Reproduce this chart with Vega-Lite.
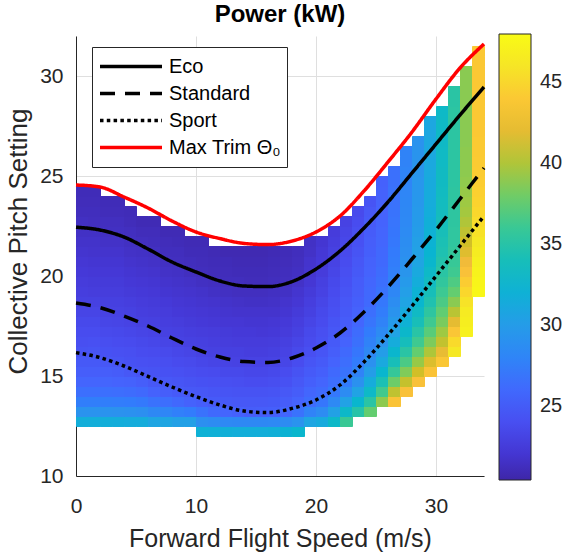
{
"$schema":"https://vega.github.io/schema/vega-lite/v6.json",
"width":408,"height":440,
"autosize":{"type":"none"},
"padding":{"left":76,"top":36,"right":80,"bottom":81},
"title":{"text":"Power (kW)","fontSize":24,"fontWeight":"bold","font":"Liberation Sans","color":"#000000","anchor":"middle","offset":-12,"baseline":"alphabetic"},
"config":{
"view":{"stroke":null},
"axis":{"zindex":0,"grid":true,"gridColor":"#DFDFDF","gridWidth":1,"domainColor":"#262626","domainWidth":1,"ticks":false,"labelFont":"Liberation Sans","labelFontSize":21,"labelColor":"#262626","labelFlush":false,"titleFont":"Liberation Sans","titleFontWeight":"normal","titleColor":"#262626","titleBaseline":"alphabetic","format":"d"},
"axisX":{"labelPadding":19,"titleFontSize":25,"titleAlign":"center","titleAngle":0},
"axisY":{"labelPadding":13,"titleFontSize":26,"titleAngle":270,"titleAlign":"center"}
},
"datasets":{
"cells":[
{"s":0,"t":12.5,"p":31.7},{"s":0,"t":13,"p":29.2},{"s":0,"t":13.5,"p":27.5},{"s":0,"t":14,"p":26.4},{"s":0,"t":14.5,"p":25.7},{"s":0,"t":15,"p":25.2},{"s":0,"t":15.5,"p":24.8},{"s":0,"t":16,"p":24.3},{"s":0,"t":16.5,"p":24.0},{"s":0,"t":17,"p":23.8},{"s":0,"t":17.5,"p":23.5},{"s":0,"t":18,"p":23.2},{"s":0,"t":18.5,"p":22.9},{"s":0,"t":19,"p":22.7},{"s":0,"t":19.5,"p":22.5},{"s":0,"t":20,"p":22.3},{"s":0,"t":20.5,"p":22.1},{"s":0,"t":21,"p":21.9},{"s":0,"t":21.5,"p":21.7},{"s":0,"t":22,"p":21.5},{"s":0,"t":22.5,"p":21.4},{"s":0,"t":23,"p":21.2},{"s":0,"t":23.5,"p":21.1},{"s":0,"t":24,"p":21.0},
{"s":1,"t":12.5,"p":31.7},{"s":1,"t":13,"p":29.2},{"s":1,"t":13.5,"p":27.5},{"s":1,"t":14,"p":26.4},{"s":1,"t":14.5,"p":25.7},{"s":1,"t":15,"p":25.2},{"s":1,"t":15.5,"p":24.8},{"s":1,"t":16,"p":24.4},{"s":1,"t":16.5,"p":24.1},{"s":1,"t":17,"p":23.8},{"s":1,"t":17.5,"p":23.5},{"s":1,"t":18,"p":23.2},{"s":1,"t":18.5,"p":22.9},{"s":1,"t":19,"p":22.6},{"s":1,"t":19.5,"p":22.4},{"s":1,"t":20,"p":22.2},{"s":1,"t":20.5,"p":22.0},{"s":1,"t":21,"p":21.8},{"s":1,"t":21.5,"p":21.7},{"s":1,"t":22,"p":21.5},{"s":1,"t":22.5,"p":21.3},{"s":1,"t":23,"p":21.2},{"s":1,"t":23.5,"p":21.1},{"s":1,"t":24,"p":21.0},
{"s":2,"t":12.5,"p":31.7},{"s":2,"t":13,"p":29.2},{"s":2,"t":13.5,"p":27.5},{"s":2,"t":14,"p":26.4},{"s":2,"t":14.5,"p":25.7},{"s":2,"t":15,"p":25.2},{"s":2,"t":15.5,"p":24.6},{"s":2,"t":16,"p":24.2},{"s":2,"t":16.5,"p":23.9},{"s":2,"t":17,"p":23.6},{"s":2,"t":17.5,"p":23.3},{"s":2,"t":18,"p":23.0},{"s":2,"t":18.5,"p":22.8},{"s":2,"t":19,"p":22.6},{"s":2,"t":19.5,"p":22.4},{"s":2,"t":20,"p":22.2},{"s":2,"t":20.5,"p":22.0},{"s":2,"t":21,"p":21.8},{"s":2,"t":21.5,"p":21.6},{"s":2,"t":22,"p":21.4},{"s":2,"t":22.5,"p":21.3},{"s":2,"t":23,"p":21.1},{"s":2,"t":23.5,"p":21.0},
{"s":3,"t":12.5,"p":31.6},{"s":3,"t":13,"p":29.1},{"s":3,"t":13.5,"p":27.4},{"s":3,"t":14,"p":26.3},{"s":3,"t":14.5,"p":25.6},{"s":3,"t":15,"p":25.0},{"s":3,"t":15.5,"p":24.4},{"s":3,"t":16,"p":24.1},{"s":3,"t":16.5,"p":23.8},{"s":3,"t":17,"p":23.5},{"s":3,"t":17.5,"p":23.2},{"s":3,"t":18,"p":23.0},{"s":3,"t":18.5,"p":22.8},{"s":3,"t":19,"p":22.6},{"s":3,"t":19.5,"p":22.4},{"s":3,"t":20,"p":22.2},{"s":3,"t":20.5,"p":22.0},{"s":3,"t":21,"p":21.8},{"s":3,"t":21.5,"p":21.6},{"s":3,"t":22,"p":21.4},{"s":3,"t":22.5,"p":21.3},{"s":3,"t":23,"p":21.1},{"s":3,"t":23.5,"p":21.0},
{"s":4,"t":12.5,"p":31.5},{"s":4,"t":13,"p":29.0},{"s":4,"t":13.5,"p":27.3},{"s":4,"t":14,"p":26.2},{"s":4,"t":14.5,"p":25.5},{"s":4,"t":15,"p":24.7},{"s":4,"t":15.5,"p":24.2},{"s":4,"t":16,"p":24.0},{"s":4,"t":16.5,"p":23.7},{"s":4,"t":17,"p":23.4},{"s":4,"t":17.5,"p":23.1},{"s":4,"t":18,"p":22.9},{"s":4,"t":18.5,"p":22.7},{"s":4,"t":19,"p":22.4},{"s":4,"t":19.5,"p":22.2},{"s":4,"t":20,"p":22.0},{"s":4,"t":20.5,"p":21.8},{"s":4,"t":21,"p":21.6},{"s":4,"t":21.5,"p":21.4},{"s":4,"t":22,"p":21.3},{"s":4,"t":22.5,"p":21.1},{"s":4,"t":23,"p":21.0},
{"s":5,"t":12.5,"p":31.5},{"s":5,"t":13,"p":28.9},{"s":5,"t":13.5,"p":27.1},{"s":5,"t":14,"p":26.0},{"s":5,"t":14.5,"p":25.2},{"s":5,"t":15,"p":24.4},{"s":5,"t":15.5,"p":24.1},{"s":5,"t":16,"p":23.8},{"s":5,"t":16.5,"p":23.5},{"s":5,"t":17,"p":23.2},{"s":5,"t":17.5,"p":22.9},{"s":5,"t":18,"p":22.7},{"s":5,"t":18.5,"p":22.5},{"s":5,"t":19,"p":22.3},{"s":5,"t":19.5,"p":22.1},{"s":5,"t":20,"p":21.9},{"s":5,"t":20.5,"p":21.7},{"s":5,"t":21,"p":21.5},{"s":5,"t":21.5,"p":21.3},{"s":5,"t":22,"p":21.1},{"s":5,"t":22.5,"p":20.9},
{"s":6,"t":12.5,"p":30.8},{"s":6,"t":13,"p":28.3},{"s":6,"t":13.5,"p":26.6},{"s":6,"t":14,"p":25.5},{"s":6,"t":14.5,"p":24.7},{"s":6,"t":15,"p":24.3},{"s":6,"t":15.5,"p":24.0},{"s":6,"t":16,"p":23.7},{"s":6,"t":16.5,"p":23.4},{"s":6,"t":17,"p":23.1},{"s":6,"t":17.5,"p":22.8},{"s":6,"t":18,"p":22.6},{"s":6,"t":18.5,"p":22.4},{"s":6,"t":19,"p":22.2},{"s":6,"t":19.5,"p":22.0},{"s":6,"t":20,"p":21.8},{"s":6,"t":20.5,"p":21.6},{"s":6,"t":21,"p":21.4},{"s":6,"t":21.5,"p":21.2},{"s":6,"t":22,"p":21.1},{"s":6,"t":22.5,"p":20.9},
{"s":7,"t":12.5,"p":30.8},{"s":7,"t":13,"p":28.1},{"s":7,"t":13.5,"p":26.3},{"s":7,"t":14,"p":25.2},{"s":7,"t":14.5,"p":24.6},{"s":7,"t":15,"p":24.2},{"s":7,"t":15.5,"p":23.9},{"s":7,"t":16,"p":23.6},{"s":7,"t":16.5,"p":23.2},{"s":7,"t":17,"p":22.9},{"s":7,"t":17.5,"p":22.7},{"s":7,"t":18,"p":22.5},{"s":7,"t":18.5,"p":22.3},{"s":7,"t":19,"p":22.0},{"s":7,"t":19.5,"p":21.8},{"s":7,"t":20,"p":21.6},{"s":7,"t":20.5,"p":21.4},{"s":7,"t":21,"p":21.2},{"s":7,"t":21.5,"p":21.1},{"s":7,"t":22,"p":20.9},
{"s":8,"t":12.5,"p":30.3},{"s":8,"t":13,"p":27.6},{"s":8,"t":13.5,"p":25.9},{"s":8,"t":14,"p":24.9},{"s":8,"t":14.5,"p":24.5},{"s":8,"t":15,"p":24.1},{"s":8,"t":15.5,"p":23.7},{"s":8,"t":16,"p":23.4},{"s":8,"t":16.5,"p":23.0},{"s":8,"t":17,"p":22.8},{"s":8,"t":17.5,"p":22.6},{"s":8,"t":18,"p":22.3},{"s":8,"t":18.5,"p":22.1},{"s":8,"t":19,"p":21.9},{"s":8,"t":19.5,"p":21.7},{"s":8,"t":20,"p":21.5},{"s":8,"t":20.5,"p":21.3},{"s":8,"t":21,"p":21.2},{"s":8,"t":21.5,"p":21.0},{"s":8,"t":22,"p":20.9},
{"s":9,"t":12.5,"p":30.3},{"s":9,"t":13,"p":27.3},{"s":9,"t":13.5,"p":25.5},{"s":9,"t":14,"p":24.7},{"s":9,"t":14.5,"p":24.3},{"s":9,"t":15,"p":23.9},{"s":9,"t":15.5,"p":23.6},{"s":9,"t":16,"p":23.2},{"s":9,"t":16.5,"p":22.9},{"s":9,"t":17,"p":22.7},{"s":9,"t":17.5,"p":22.4},{"s":9,"t":18,"p":22.2},{"s":9,"t":18.5,"p":22.0},{"s":9,"t":19,"p":21.8},{"s":9,"t":19.5,"p":21.6},{"s":9,"t":20,"p":21.3},{"s":9,"t":20.5,"p":21.2},{"s":9,"t":21,"p":21.0},{"s":9,"t":21.5,"p":20.9},
{"s":10,"t":12,"p":32.0},{"s":10,"t":12.5,"p":28.9},{"s":10,"t":13,"p":26.6},{"s":10,"t":13.5,"p":25.2},{"s":10,"t":14,"p":24.6},{"s":10,"t":14.5,"p":24.2},{"s":10,"t":15,"p":23.8},{"s":10,"t":15.5,"p":23.4},{"s":10,"t":16,"p":23.0},{"s":10,"t":16.5,"p":22.8},{"s":10,"t":17,"p":22.6},{"s":10,"t":17.5,"p":22.3},{"s":10,"t":18,"p":22.1},{"s":10,"t":18.5,"p":21.9},{"s":10,"t":19,"p":21.7},{"s":10,"t":19.5,"p":21.4},{"s":10,"t":20,"p":21.2},{"s":10,"t":20.5,"p":21.1},{"s":10,"t":21,"p":21.0},{"s":10,"t":21.5,"p":20.9},
{"s":11,"t":12,"p":31.9},{"s":11,"t":12.5,"p":28.6},{"s":11,"t":13,"p":26.0},{"s":11,"t":13.5,"p":24.9},{"s":11,"t":14,"p":24.5},{"s":11,"t":14.5,"p":24.1},{"s":11,"t":15,"p":23.7},{"s":11,"t":15.5,"p":23.2},{"s":11,"t":16,"p":22.9},{"s":11,"t":16.5,"p":22.7},{"s":11,"t":17,"p":22.5},{"s":11,"t":17.5,"p":22.2},{"s":11,"t":18,"p":22.0},{"s":11,"t":18.5,"p":21.8},{"s":11,"t":19,"p":21.5},{"s":11,"t":19.5,"p":21.3},{"s":11,"t":20,"p":21.1},{"s":11,"t":20.5,"p":21.0},{"s":11,"t":21,"p":20.9},
{"s":12,"t":12,"p":31.8},{"s":12,"t":12.5,"p":28.4},{"s":12,"t":13,"p":25.7},{"s":12,"t":13.5,"p":24.8},{"s":12,"t":14,"p":24.4},{"s":12,"t":14.5,"p":24.0},{"s":12,"t":15,"p":23.5},{"s":12,"t":15.5,"p":23.1},{"s":12,"t":16,"p":22.8},{"s":12,"t":16.5,"p":22.6},{"s":12,"t":17,"p":22.4},{"s":12,"t":17.5,"p":22.1},{"s":12,"t":18,"p":21.9},{"s":12,"t":18.5,"p":21.7},{"s":12,"t":19,"p":21.4},{"s":12,"t":19.5,"p":21.2},{"s":12,"t":20,"p":21.1},{"s":12,"t":20.5,"p":21.0},{"s":12,"t":21,"p":20.8},
{"s":13,"t":12,"p":31.7},{"s":13,"t":12.5,"p":28.3},{"s":13,"t":13,"p":25.4},{"s":13,"t":13.5,"p":24.7},{"s":13,"t":14,"p":24.3},{"s":13,"t":14.5,"p":23.9},{"s":13,"t":15,"p":23.5},{"s":13,"t":15.5,"p":23.0},{"s":13,"t":16,"p":22.8},{"s":13,"t":16.5,"p":22.5},{"s":13,"t":17,"p":22.3},{"s":13,"t":17.5,"p":22.1},{"s":13,"t":18,"p":21.8},{"s":13,"t":18.5,"p":21.6},{"s":13,"t":19,"p":21.3},{"s":13,"t":19.5,"p":21.2},{"s":13,"t":20,"p":21.0},{"s":13,"t":20.5,"p":20.9},{"s":13,"t":21,"p":20.8},
{"s":14,"t":12,"p":31.7},{"s":14,"t":12.5,"p":28.3},{"s":14,"t":13,"p":25.1},{"s":14,"t":13.5,"p":24.7},{"s":14,"t":14,"p":24.3},{"s":14,"t":14.5,"p":23.8},{"s":14,"t":15,"p":23.4},{"s":14,"t":15.5,"p":23.0},{"s":14,"t":16,"p":22.7},{"s":14,"t":16.5,"p":22.5},{"s":14,"t":17,"p":22.3},{"s":14,"t":17.5,"p":22.0},{"s":14,"t":18,"p":21.8},{"s":14,"t":18.5,"p":21.5},{"s":14,"t":19,"p":21.3},{"s":14,"t":19.5,"p":21.1},{"s":14,"t":20,"p":21.0},{"s":14,"t":20.5,"p":20.9},{"s":14,"t":21,"p":20.8},
{"s":15,"t":12,"p":31.7},{"s":15,"t":12.5,"p":28.3},{"s":15,"t":13,"p":25.2},{"s":15,"t":13.5,"p":24.7},{"s":15,"t":14,"p":24.3},{"s":15,"t":14.5,"p":23.8},{"s":15,"t":15,"p":23.4},{"s":15,"t":15.5,"p":23.0},{"s":15,"t":16,"p":22.7},{"s":15,"t":16.5,"p":22.5},{"s":15,"t":17,"p":22.2},{"s":15,"t":17.5,"p":22.0},{"s":15,"t":18,"p":21.8},{"s":15,"t":18.5,"p":21.5},{"s":15,"t":19,"p":21.3},{"s":15,"t":19.5,"p":21.1},{"s":15,"t":20,"p":21.0},{"s":15,"t":20.5,"p":20.9},{"s":15,"t":21,"p":20.8},
{"s":16,"t":12,"p":31.8},{"s":16,"t":12.5,"p":28.4},{"s":16,"t":13,"p":25.3},{"s":16,"t":13.5,"p":24.8},{"s":16,"t":14,"p":24.4},{"s":16,"t":14.5,"p":23.9},{"s":16,"t":15,"p":23.5},{"s":16,"t":15.5,"p":23.1},{"s":16,"t":16,"p":22.8},{"s":16,"t":16.5,"p":22.6},{"s":16,"t":17,"p":22.3},{"s":16,"t":17.5,"p":22.1},{"s":16,"t":18,"p":21.8},{"s":16,"t":18.5,"p":21.6},{"s":16,"t":19,"p":21.4},{"s":16,"t":19.5,"p":21.2},{"s":16,"t":20,"p":21.1},{"s":16,"t":20.5,"p":21.0},{"s":16,"t":21,"p":20.9},
{"s":17,"t":12,"p":32.2},{"s":17,"t":12.5,"p":28.6},{"s":17,"t":13,"p":25.8},{"s":17,"t":13.5,"p":25.1},{"s":17,"t":14,"p":24.7},{"s":17,"t":14.5,"p":24.2},{"s":17,"t":15,"p":23.8},{"s":17,"t":15.5,"p":23.3},{"s":17,"t":16,"p":23.1},{"s":17,"t":16.5,"p":22.8},{"s":17,"t":17,"p":22.5},{"s":17,"t":17.5,"p":22.3},{"s":17,"t":18,"p":22.0},{"s":17,"t":18.5,"p":21.8},{"s":17,"t":19,"p":21.5},{"s":17,"t":19.5,"p":21.3},{"s":17,"t":20,"p":21.2},{"s":17,"t":20.5,"p":21.1},{"s":17,"t":21,"p":21.0},
{"s":18,"t":12,"p":32.7},{"s":18,"t":12.5,"p":29.2},{"s":18,"t":13,"p":26.6},{"s":18,"t":13.5,"p":25.6},{"s":18,"t":14,"p":25.1},{"s":18,"t":14.5,"p":24.7},{"s":18,"t":15,"p":24.3},{"s":18,"t":15.5,"p":23.8},{"s":18,"t":16,"p":23.5},{"s":18,"t":16.5,"p":23.2},{"s":18,"t":17,"p":22.9},{"s":18,"t":17.5,"p":22.7},{"s":18,"t":18,"p":22.4},{"s":18,"t":18.5,"p":22.1},{"s":18,"t":19,"p":21.9},{"s":18,"t":19.5,"p":21.6},{"s":18,"t":20,"p":21.4},{"s":18,"t":20.5,"p":21.3},{"s":18,"t":21,"p":21.2},
{"s":19,"t":12.5,"p":30.8},{"s":19,"t":13,"p":27.9},{"s":19,"t":13.5,"p":26.2},{"s":19,"t":14,"p":25.8},{"s":19,"t":14.5,"p":25.3},{"s":19,"t":15,"p":24.9},{"s":19,"t":15.5,"p":24.5},{"s":19,"t":16,"p":24.0},{"s":19,"t":16.5,"p":23.7},{"s":19,"t":17,"p":23.5},{"s":19,"t":17.5,"p":23.2},{"s":19,"t":18,"p":22.9},{"s":19,"t":18.5,"p":22.7},{"s":19,"t":19,"p":22.4},{"s":19,"t":19.5,"p":22.1},{"s":19,"t":20,"p":21.9},{"s":19,"t":20.5,"p":21.8},{"s":19,"t":21,"p":21.6},{"s":19,"t":21.5,"p":21.5},
{"s":20,"t":12.5,"p":31.3},{"s":20,"t":13,"p":28.6},{"s":20,"t":13.5,"p":26.9},{"s":20,"t":14,"p":26.1},{"s":20,"t":14.5,"p":25.7},{"s":20,"t":15,"p":25.3},{"s":20,"t":15.5,"p":24.9},{"s":20,"t":16,"p":24.5},{"s":20,"t":16.5,"p":24.2},{"s":20,"t":17,"p":24.0},{"s":20,"t":17.5,"p":23.7},{"s":20,"t":18,"p":23.5},{"s":20,"t":18.5,"p":23.3},{"s":20,"t":19,"p":23.0},{"s":20,"t":19.5,"p":22.8},{"s":20,"t":20,"p":22.5},{"s":20,"t":20.5,"p":22.3},{"s":20,"t":21,"p":22.2},{"s":20,"t":21.5,"p":22.0},
{"s":21,"t":12.5,"p":33.0},{"s":21,"t":13,"p":30.4},{"s":21,"t":13.5,"p":28.4},{"s":21,"t":14,"p":27.0},{"s":21,"t":14.5,"p":26.3},{"s":21,"t":15,"p":26.0},{"s":21,"t":15.5,"p":25.6},{"s":21,"t":16,"p":25.2},{"s":21,"t":16.5,"p":24.9},{"s":21,"t":17,"p":24.6},{"s":21,"t":17.5,"p":24.4},{"s":21,"t":18,"p":24.1},{"s":21,"t":18.5,"p":23.9},{"s":21,"t":19,"p":23.7},{"s":21,"t":19.5,"p":23.5},{"s":21,"t":20,"p":23.3},{"s":21,"t":20.5,"p":23.1},{"s":21,"t":21,"p":22.9},{"s":21,"t":21.5,"p":22.7},{"s":21,"t":22,"p":22.5},
{"s":22,"t":12.5,"p":36.0},{"s":22,"t":13,"p":33.0},{"s":22,"t":13.5,"p":30.5},{"s":22,"t":14,"p":28.6},{"s":22,"t":14.5,"p":27.3},{"s":22,"t":15,"p":26.7},{"s":22,"t":15.5,"p":26.3},{"s":22,"t":16,"p":26.0},{"s":22,"t":16.5,"p":25.6},{"s":22,"t":17,"p":25.2},{"s":22,"t":17.5,"p":25.0},{"s":22,"t":18,"p":24.8},{"s":22,"t":18.5,"p":24.6},{"s":22,"t":19,"p":24.4},{"s":22,"t":19.5,"p":24.2},{"s":22,"t":20,"p":24.0},{"s":22,"t":20.5,"p":23.8},{"s":22,"t":21,"p":23.6},{"s":22,"t":21.5,"p":23.4},{"s":22,"t":22,"p":23.2},{"s":22,"t":22.5,"p":23.0},
{"s":23,"t":13,"p":35.0},{"s":23,"t":13.5,"p":32.6},{"s":23,"t":14,"p":30.6},{"s":23,"t":14.5,"p":29.0},{"s":23,"t":15,"p":27.9},{"s":23,"t":15.5,"p":27.3},{"s":23,"t":16,"p":26.9},{"s":23,"t":16.5,"p":26.5},{"s":23,"t":17,"p":26.2},{"s":23,"t":17.5,"p":25.8},{"s":23,"t":18,"p":25.5},{"s":23,"t":18.5,"p":25.3},{"s":23,"t":19,"p":25.1},{"s":23,"t":19.5,"p":25.0},{"s":23,"t":20,"p":24.8},{"s":23,"t":20.5,"p":24.6},{"s":23,"t":21,"p":24.4},{"s":23,"t":21.5,"p":24.2},{"s":23,"t":22,"p":24.0},{"s":23,"t":22.5,"p":23.8},{"s":23,"t":23,"p":23.6},
{"s":24,"t":13,"p":37.6},{"s":24,"t":13.5,"p":35.2},{"s":24,"t":14,"p":33.1},{"s":24,"t":14.5,"p":31.5},{"s":24,"t":15,"p":30.1},{"s":24,"t":15.5,"p":29.0},{"s":24,"t":16,"p":28.3},{"s":24,"t":16.5,"p":27.8},{"s":24,"t":17,"p":27.3},{"s":24,"t":17.5,"p":26.8},{"s":24,"t":18,"p":26.4},{"s":24,"t":18.5,"p":26.0},{"s":24,"t":19,"p":25.9},{"s":24,"t":19.5,"p":25.8},{"s":24,"t":20,"p":25.6},{"s":24,"t":20.5,"p":25.5},{"s":24,"t":21,"p":25.3},{"s":24,"t":21.5,"p":25.2},{"s":24,"t":22,"p":25.0},{"s":24,"t":22.5,"p":24.9},{"s":24,"t":23,"p":24.7},{"s":24,"t":23.5,"p":24.4},
{"s":25,"t":13.5,"p":38.9},{"s":25,"t":14,"p":36.3},{"s":25,"t":14.5,"p":34.3},{"s":25,"t":15,"p":32.6},{"s":25,"t":15.5,"p":31.2},{"s":25,"t":16,"p":30.1},{"s":25,"t":16.5,"p":29.2},{"s":25,"t":17,"p":28.5},{"s":25,"t":17.5,"p":27.9},{"s":25,"t":18,"p":27.4},{"s":25,"t":18.5,"p":27.0},{"s":25,"t":19,"p":26.7},{"s":25,"t":19.5,"p":26.4},{"s":25,"t":20,"p":26.2},{"s":25,"t":20.5,"p":26.0},{"s":25,"t":21,"p":25.9},{"s":25,"t":21.5,"p":25.8},{"s":25,"t":22,"p":25.7},{"s":25,"t":22.5,"p":25.6},{"s":25,"t":23,"p":25.6},{"s":25,"t":23.5,"p":25.5},{"s":25,"t":24,"p":25.5},{"s":25,"t":24.5,"p":25.4},
{"s":26,"t":13.5,"p":43.6},{"s":26,"t":14,"p":40.5},{"s":26,"t":14.5,"p":37.9},{"s":26,"t":15,"p":35.8},{"s":26,"t":15.5,"p":34.1},{"s":26,"t":16,"p":32.7},{"s":26,"t":16.5,"p":31.5},{"s":26,"t":17,"p":30.6},{"s":26,"t":17.5,"p":29.8},{"s":26,"t":18,"p":29.2},{"s":26,"t":18.5,"p":28.7},{"s":26,"t":19,"p":28.2},{"s":26,"t":19.5,"p":27.9},{"s":26,"t":20,"p":27.6},{"s":26,"t":20.5,"p":27.4},{"s":26,"t":21,"p":27.2},{"s":26,"t":21.5,"p":27.0},{"s":26,"t":22,"p":26.9},{"s":26,"t":22.5,"p":26.8},{"s":26,"t":23,"p":26.7},{"s":26,"t":23.5,"p":26.6},{"s":26,"t":24,"p":26.6},{"s":26,"t":24.5,"p":26.5},{"s":26,"t":25,"p":26.5},
{"s":27,"t":14,"p":43.4},{"s":27,"t":14.5,"p":40.7},{"s":27,"t":15,"p":38.5},{"s":27,"t":15.5,"p":36.7},{"s":27,"t":16,"p":35.2},{"s":27,"t":16.5,"p":33.9},{"s":27,"t":17,"p":32.9},{"s":27,"t":17.5,"p":32.0},{"s":27,"t":18,"p":31.3},{"s":27,"t":18.5,"p":30.7},{"s":27,"t":19,"p":30.2},{"s":27,"t":19.5,"p":29.8},{"s":27,"t":20,"p":29.4},{"s":27,"t":20.5,"p":29.1},{"s":27,"t":21,"p":28.9},{"s":27,"t":21.5,"p":28.7},{"s":27,"t":22,"p":28.5},{"s":27,"t":22.5,"p":28.4},{"s":27,"t":23,"p":28.3},{"s":27,"t":23.5,"p":28.2},{"s":27,"t":24,"p":28.1},{"s":27,"t":24.5,"p":28.0},{"s":27,"t":25,"p":28.0},{"s":27,"t":25.5,"p":27.9},{"s":27,"t":26,"p":27.9},
{"s":28,"t":14.5,"p":43.4},{"s":28,"t":15,"p":41.1},{"s":28,"t":15.5,"p":39.2},{"s":28,"t":16,"p":37.6},{"s":28,"t":16.5,"p":36.2},{"s":28,"t":17,"p":35.1},{"s":28,"t":17.5,"p":34.1},{"s":28,"t":18,"p":33.3},{"s":28,"t":18.5,"p":32.6},{"s":28,"t":19,"p":32.1},{"s":28,"t":19.5,"p":31.6},{"s":28,"t":20,"p":31.2},{"s":28,"t":20.5,"p":30.8},{"s":28,"t":21,"p":30.5},{"s":28,"t":21.5,"p":30.3},{"s":28,"t":22,"p":30.1},{"s":28,"t":22.5,"p":29.9},{"s":28,"t":23,"p":29.8},{"s":28,"t":23.5,"p":29.6},{"s":28,"t":24,"p":29.5},{"s":28,"t":24.5,"p":29.5},{"s":28,"t":25,"p":29.4},{"s":28,"t":25.5,"p":29.3},{"s":28,"t":26,"p":29.3},{"s":28,"t":26.5,"p":29.2},
{"s":29,"t":15,"p":43.6},{"s":29,"t":15.5,"p":41.6},{"s":29,"t":16,"p":39.9},{"s":29,"t":16.5,"p":38.4},{"s":29,"t":17,"p":37.2},{"s":29,"t":17.5,"p":36.2},{"s":29,"t":18,"p":35.4},{"s":29,"t":18.5,"p":34.6},{"s":29,"t":19,"p":34.0},{"s":29,"t":19.5,"p":33.5},{"s":29,"t":20,"p":33.1},{"s":29,"t":20.5,"p":32.7},{"s":29,"t":21,"p":32.4},{"s":29,"t":21.5,"p":32.2},{"s":29,"t":22,"p":32.0},{"s":29,"t":22.5,"p":31.8},{"s":29,"t":23,"p":31.6},{"s":29,"t":23.5,"p":31.5},{"s":29,"t":24,"p":31.4},{"s":29,"t":24.5,"p":31.3},{"s":29,"t":25,"p":31.2},{"s":29,"t":25.5,"p":31.1},{"s":29,"t":26,"p":31.1},{"s":29,"t":26.5,"p":31.1},{"s":29,"t":27,"p":31.0},{"s":29,"t":27.5,"p":31.0},
{"s":30,"t":15.5,"p":43.9},{"s":30,"t":16,"p":42.1},{"s":30,"t":16.5,"p":40.6},{"s":30,"t":17,"p":39.4},{"s":30,"t":17.5,"p":38.3},{"s":30,"t":18,"p":37.5},{"s":30,"t":18.5,"p":36.7},{"s":30,"t":19,"p":36.1},{"s":30,"t":19.5,"p":35.6},{"s":30,"t":20,"p":35.2},{"s":30,"t":20.5,"p":34.8},{"s":30,"t":21,"p":34.5},{"s":30,"t":21.5,"p":34.3},{"s":30,"t":22,"p":34.1},{"s":30,"t":22.5,"p":33.9},{"s":30,"t":23,"p":33.7},{"s":30,"t":23.5,"p":33.6},{"s":30,"t":24,"p":33.5},{"s":30,"t":24.5,"p":33.4},{"s":30,"t":25,"p":33.4},{"s":30,"t":25.5,"p":33.3},{"s":30,"t":26,"p":33.3},{"s":30,"t":26.5,"p":33.2},{"s":30,"t":27,"p":33.2},{"s":30,"t":27.5,"p":33.2},{"s":30,"t":28,"p":33.1},
{"s":31,"t":16,"p":46.2},{"s":31,"t":16.5,"p":45.3},{"s":31,"t":17,"p":43.8},{"s":31,"t":17.5,"p":42.0},{"s":31,"t":18,"p":40.3},{"s":31,"t":18.5,"p":38.8},{"s":31,"t":19,"p":37.6},{"s":31,"t":19.5,"p":36.8},{"s":31,"t":20,"p":36.2},{"s":31,"t":20.5,"p":35.9},{"s":31,"t":21,"p":35.7},{"s":31,"t":21.5,"p":35.5},{"s":31,"t":22,"p":35.5},{"s":31,"t":22.5,"p":35.4},{"s":31,"t":23,"p":35.4},{"s":31,"t":23.5,"p":35.4},{"s":31,"t":24,"p":35.4},{"s":31,"t":24.5,"p":35.3},{"s":31,"t":25,"p":35.3},{"s":31,"t":25.5,"p":35.3},{"s":31,"t":26,"p":35.3},{"s":31,"t":26.5,"p":35.3},{"s":31,"t":27,"p":35.3},{"s":31,"t":27.5,"p":35.3},{"s":31,"t":28,"p":35.3},{"s":31,"t":28.5,"p":35.2},{"s":31,"t":29,"p":35.2},
{"s":32,"t":17,"p":47.0},{"s":32,"t":17.5,"p":46.8},{"s":32,"t":18,"p":46.5},{"s":32,"t":18.5,"p":45.9},{"s":32,"t":19,"p":45.1},{"s":32,"t":19.5,"p":44.3},{"s":32,"t":20,"p":43.4},{"s":32,"t":20.5,"p":42.5},{"s":32,"t":21,"p":41.7},{"s":32,"t":21.5,"p":41.1},{"s":32,"t":22,"p":40.5},{"s":32,"t":22.5,"p":40.0},{"s":32,"t":23,"p":39.6},{"s":32,"t":23.5,"p":39.4},{"s":32,"t":24,"p":39.2},{"s":32,"t":24.5,"p":39.0},{"s":32,"t":25,"p":38.9},{"s":32,"t":25.5,"p":38.9},{"s":32,"t":26,"p":38.9},{"s":32,"t":26.5,"p":38.8},{"s":32,"t":27,"p":38.8},{"s":32,"t":27.5,"p":38.8},{"s":32,"t":28,"p":38.8},{"s":32,"t":28.5,"p":38.8},{"s":32,"t":29,"p":38.8},{"s":32,"t":29.5,"p":38.8},{"s":32,"t":30,"p":38.8},
{"s":33,"t":19,"p":47.6},{"s":33,"t":19.5,"p":47.4},{"s":33,"t":20,"p":47.2},{"s":33,"t":20.5,"p":46.9},{"s":33,"t":21,"p":46.6},{"s":33,"t":21.5,"p":46.2},{"s":33,"t":22,"p":45.8},{"s":33,"t":22.5,"p":45.4},{"s":33,"t":23,"p":45.1},{"s":33,"t":23.5,"p":44.8},{"s":33,"t":24,"p":44.6},{"s":33,"t":24.5,"p":44.4},{"s":33,"t":25,"p":44.3},{"s":33,"t":25.5,"p":44.2},{"s":33,"t":26,"p":44.1},{"s":33,"t":26.5,"p":44.1},{"s":33,"t":27,"p":44.0},{"s":33,"t":27.5,"p":44.0},{"s":33,"t":28,"p":44.0},{"s":33,"t":28.5,"p":44.0},{"s":33,"t":29,"p":44.0},{"s":33,"t":29.5,"p":44.0},{"s":33,"t":30,"p":44.0},{"s":33,"t":30.5,"p":44.0},{"s":33,"t":31,"p":44.0}
],
"lines":[
{"s":0,"t":22.44,"series":"Eco"},{"s":2,"t":22.3,"series":"Eco"},{"s":4,"t":21.95,"series":"Eco"},{"s":6,"t":21.35,"series":"Eco"},{"s":8,"t":20.7,"series":"Eco"},{"s":10,"t":20.2,"series":"Eco"},{"s":12,"t":19.75,"series":"Eco"},{"s":14,"t":19.5,"series":"Eco"},{"s":16,"t":19.47,"series":"Eco"},{"s":18,"t":19.72,"series":"Eco"},{"s":20,"t":20.35,"series":"Eco"},{"s":22,"t":21.25,"series":"Eco"},{"s":24,"t":22.4,"series":"Eco"},{"s":26,"t":23.7,"series":"Eco"},{"s":28,"t":25.15,"series":"Eco"},{"s":30,"t":26.6,"series":"Eco"},{"s":32,"t":28.05,"series":"Eco"},{"s":34,"t":29.45,"series":"Eco"},
{"s":0,"t":18.65,"series":"Standard"},{"s":2,"t":18.42,"series":"Standard"},{"s":4,"t":18.0,"series":"Standard"},{"s":6,"t":17.5,"series":"Standard"},{"s":8,"t":16.9,"series":"Standard"},{"s":10,"t":16.35,"series":"Standard"},{"s":12,"t":15.95,"series":"Standard"},{"s":14,"t":15.72,"series":"Standard"},{"s":16,"t":15.68,"series":"Standard"},{"s":18,"t":15.9,"series":"Standard"},{"s":20,"t":16.4,"series":"Standard"},{"s":22,"t":17.15,"series":"Standard"},{"s":24,"t":18.2,"series":"Standard"},{"s":26,"t":19.45,"series":"Standard"},{"s":28,"t":20.85,"series":"Standard"},{"s":30,"t":22.3,"series":"Standard"},{"s":32,"t":23.85,"series":"Standard"},{"s":34,"t":25.4,"series":"Standard"},
{"s":0,"t":16.17,"series":"Sport"},{"s":2,"t":15.92,"series":"Sport"},{"s":4,"t":15.5,"series":"Sport"},{"s":6,"t":14.98,"series":"Sport"},{"s":8,"t":14.45,"series":"Sport"},{"s":10,"t":13.97,"series":"Sport"},{"s":12,"t":13.55,"series":"Sport"},{"s":14,"t":13.25,"series":"Sport"},{"s":16,"t":13.17,"series":"Sport"},{"s":18,"t":13.38,"series":"Sport"},{"s":20,"t":13.8,"series":"Sport"},{"s":22,"t":14.55,"series":"Sport"},{"s":24,"t":15.7,"series":"Sport"},{"s":26,"t":17.05,"series":"Sport"},{"s":28,"t":18.5,"series":"Sport"},{"s":30,"t":20.0,"series":"Sport"},{"s":32,"t":21.5,"series":"Sport"},{"s":34,"t":23.0,"series":"Sport"},
{"s":0,"t":24.55,"series":"Max Trim Θ₀"},{"s":2,"t":24.45,"series":"Max Trim Θ₀"},{"s":4,"t":23.95,"series":"Max Trim Θ₀"},{"s":6,"t":23.4,"series":"Max Trim Θ₀"},{"s":8,"t":22.75,"series":"Max Trim Θ₀"},{"s":10,"t":22.2,"series":"Max Trim Θ₀"},{"s":12,"t":21.87,"series":"Max Trim Θ₀"},{"s":14,"t":21.63,"series":"Max Trim Θ₀"},{"s":16,"t":21.57,"series":"Max Trim Θ₀"},{"s":18,"t":21.75,"series":"Max Trim Θ₀"},{"s":20,"t":22.2,"series":"Max Trim Θ₀"},{"s":22,"t":23.0,"series":"Max Trim Θ₀"},{"s":24,"t":24.25,"series":"Max Trim Θ₀"},{"s":26,"t":25.7,"series":"Max Trim Θ₀"},{"s":28,"t":27.2,"series":"Max Trim Θ₀"},{"s":30,"t":28.85,"series":"Max Trim Θ₀"},{"s":32,"t":30.4,"series":"Max Trim Θ₀"},{"s":34,"t":31.6,"series":"Max Trim Θ₀"}
]
},
"layer":[
{
"data":{"name":"cells"},
"mark":{"type":"rect","binSpacing":0,"stroke":{"expr":"scale('fill', datum.p)"},"strokeWidth":1},
"encoding":{
"x":{"field":"s","type":"quantitative","bin":{"binned":true,"step":1},"scale":{"domain":[0,34],"nice":false,"zero":false},"title":"Forward Flight Speed (m/s)","axis":{"zindex":0,"values":[0,10,20,30],"titleX":204,"titleY":70}},
"y":{"field":"t","type":"quantitative","bin":{"binned":true,"step":0.5},"scale":{"domain":[10,32],"nice":false,"zero":false},"title":"Collective Pitch Setting","axis":{"zindex":0,"values":[10,15,20,25,30],"titleX":-50,"titleY":205}},
"fill":{"field":"p","type":"quantitative","scale":{"domain":[20.4,22.125,23.85,25.575,27.3,29.025,30.75,32.475,34.2,35.925,37.65,39.375,41.1,42.825,44.55,46.275,48.0],"range":["#3E26A8","#4537D5","#484DF0","#4563FD","#327CFC","#2B91EF","#20A5E3","#08B5D0","#19BFB6","#37C897","#64CD6F","#9DC943","#D1BF27","#F8BA3D","#FCCF30","#F5E924","#F9FB15"],"interpolate":"rgb"},
"legend":{"type":"gradient","title":null,"orient":"none","legendX":423,"legendY":-2,"direction":"vertical","gradientLength":446,"gradientThickness":32,"gradientStrokeColor":"#262626","gradientStrokeWidth":1,"values":[25,30,35,40,45],"labelFontSize":20,"labelFont":"Liberation Sans","labelColor":"#262626","labelOffset":9,"padding":0}}
}
},
{
"data":{"name":"lines"},
"mark":{"type":"line","strokeWidth":3.5,"interpolate":"monotone"},
"encoding":{
"x":{"field":"s","type":"quantitative","scale":{"domain":[0,34],"nice":false,"zero":false},"title":"Forward Flight Speed (m/s)","axis":{"zindex":0,"values":[0,10,20,30],"titleX":204,"titleY":70}},
"y":{"field":"t","type":"quantitative","scale":{"domain":[10,32],"nice":false,"zero":false},"title":"Collective Pitch Setting","axis":{"zindex":0,"values":[10,15,20,25,30],"titleX":-50,"titleY":205}},
"color":{"field":"series","type":"nominal","scale":{"domain":["Eco","Standard","Sport","Max Trim Θ₀"],"range":["#000000","#000000","#000000","#FF0000"]},
"legend":{"title":null,"orient":"none","legendX":16,"legendY":11,"symbolType":"stroke","symbolSize":3844,"symbolStrokeWidth":3.5,"clipHeight":27,"rowPadding":0,"labelFontSize":20,"labelFont":"Liberation Sans","labelColor":"#000000","labelOffset":5,"padding":6,"strokeColor":"#262626","fillColor":"#FFFFFF","cornerRadius":0,"labelLimit":300}},
"strokeDash":{"field":"series","type":"nominal","scale":{"domain":["Eco","Standard","Sport","Max Trim Θ₀"],"range":[[1,0],[15,10],[3.5,3.3],[1,0]]},
"legend":{"title":null,"orient":"none","legendX":16,"legendY":11,"symbolType":"stroke","symbolSize":3844,"symbolStrokeWidth":3.5,"clipHeight":27,"rowPadding":0,"labelFontSize":20,"labelFont":"Liberation Sans","labelColor":"#000000","labelOffset":5,"padding":6,"strokeColor":"#262626","fillColor":"#FFFFFF","cornerRadius":0,"labelLimit":300}}
}
}
]
}
